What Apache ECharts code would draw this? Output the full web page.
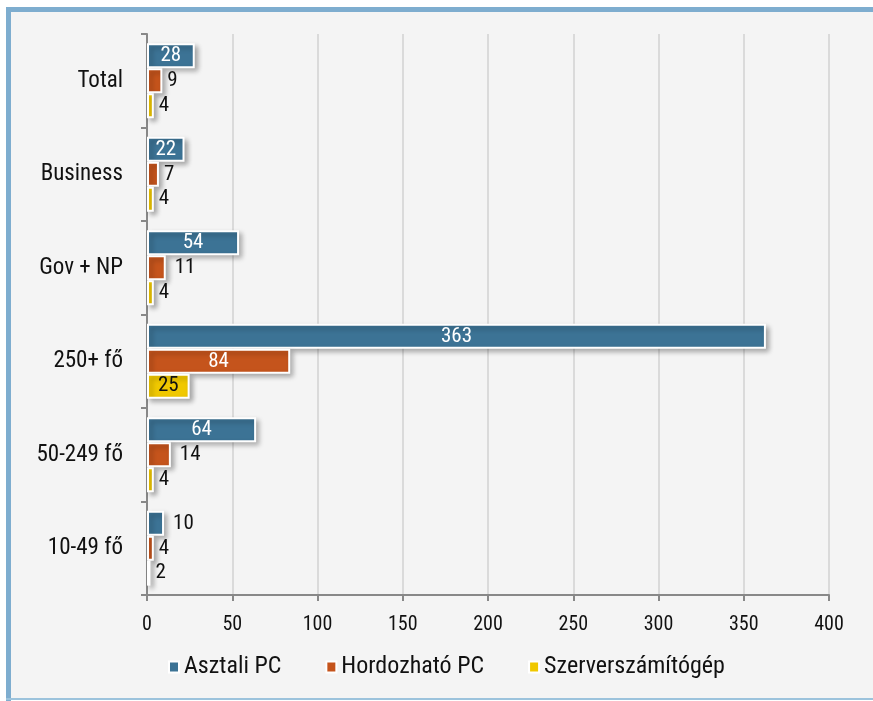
<!DOCTYPE html>
<html><head><meta charset="utf-8">
<script src="https://cdn.jsdelivr.net/npm/echarts@6/dist/echarts.min.js"></script>
<style>html,body{margin:0;padding:0;background:#fff}#c{width:873px;height:701px}</style>
</head><body><div id="c"></div>
<script>
const categories = ['Total', 'Business', 'Gov + NP', '250+ fő', '50-249 fő', '10-49 fő'];
const seriesNames = ['Asztali PC', 'Hordozható PC', 'Szerverszámítógép'];
const asztali = [28, 22, 54, 363, 64, 10];
const hordozhato = [9, 7, 11, 84, 14, 4];
const szerver = [4, 4, 4, 25, 4, 2];
const xTicks = [0, 50, 100, 150, 200, 250, 300, 350, 400];

const colors = ['#3c7395', '#c5541c', '#f0c800'];
const insideText = ['#ffffff', '#ffffff', '#111111'];
const FONT = "'Roboto Condensed', 'Liberation Sans', sans-serif";

function mk(vals, idx) {
  return vals.map(v => ({
    value: v,
    label: v >= 20
      ? { position: 'inside', color: insideText[idx] }
      : { position: 'right', color: '#111111', distance: v >= 10 ? 9 : 5 }
  }));
}
const all = [asztali, hordozhato, szerver];

const chart = echarts.init(document.getElementById('c'), null, { renderer: 'canvas' });
chart.setOption({
  backgroundColor: '#ffffff',
  animation: false,
  graphic: [
    { type: 'rect', z: -10, shape: { x: 8, y: 10, width: 870, height: 690 }, style: { fill: '#f4f4f4' } },
    { type: 'rect', z: -9, shape: { x: 6, y: 7, width: 870, height: 5 }, style: { fill: '#7eadcf' } },
    { type: 'rect', z: -9, shape: { x: 6, y: 7, width: 5, height: 694 }, style: { fill: '#7eadcf' } },
    { type: 'rect', z: -9, shape: { x: 6, y: 698, width: 870, height: 2 }, style: { fill: '#9cc3dc' } }
  ],
  grid: { left: 147, right: 44, top: 34, bottom: 106, containLabel: false },
  legend: {
    data: seriesNames,
    left: 163, top: 650,
    itemWidth: 10, itemHeight: 11, itemGap: 44,
    icon: 'rect',
    textStyle: { fontFamily: FONT, fontSize: 24, color: '#111' }
  },
  xAxis: {
    type: 'value', min: xTicks[0], max: xTicks[xTicks.length - 1], interval: 50,
    axisLine: { show: true, lineStyle: { color: '#888', width: 2 } },
    axisTick: { show: true, length: 6, lineStyle: { color: '#888', width: 2 } },
    axisLabel: { fontFamily: FONT, fontSize: 20, color: '#111', margin: 20 },
    splitLine: { show: true, lineStyle: { color: '#dadada', width: 2 } }
  },
  yAxis: {
    type: 'category', data: categories, inverse: true,
    axisLine: { show: true, lineStyle: { color: '#888', width: 2 } },
    axisTick: { show: true, length: 6, lineStyle: { color: '#888', width: 2 } },
    axisLabel: { fontFamily: FONT, fontSize: 23, color: '#111', margin: 24, padding: [4, 0, 0, 0] },
    splitLine: { show: false }
  },
  series: seriesNames.map((n, i) => ({
    name: n, type: 'bar',
    data: mk(all[i], i),
    barGap: '0%', barCategoryGap: '20%',
    itemStyle: {
      color: colors[i], borderColor: '#ffffff', borderWidth: 2,
      shadowColor: 'rgba(0,0,0,0.3)', shadowBlur: 5, shadowOffsetX: 3, shadowOffsetY: 3
    },
    label: { show: true, fontFamily: FONT, fontSize: 21 }
  }))
});
</script></body></html>
